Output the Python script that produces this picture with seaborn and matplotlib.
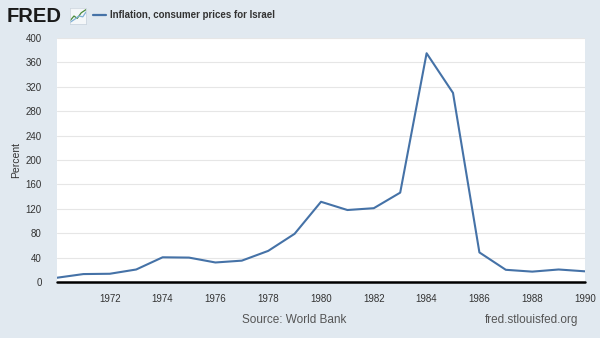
import matplotlib
matplotlib.use("Agg")
import matplotlib.pyplot as plt
import seaborn as sns
import pandas as pd

years = list(range(1970, 1991))
inflation = [7.0, 13.0, 13.5, 20.5, 40.5, 40.0, 32.0, 35.0, 51.0, 79.0, 131.5,
             118.0, 121.0, 146.5, 375.0, 310.0, 48.5, 20.0, 17.0, 20.5, 17.5]
x_ticks = list(range(1972, 1991, 2))
y_ticks = list(range(0, 401, 40))
series_name = "Inflation, consumer prices for Israel"

df = pd.DataFrame({"year": years, "value": inflation})

sns.set_theme(style="white")
plt.rcParams["font.family"] = ["Liberation Sans", "DejaVu Sans"]

bg = "#e1e9f0"
line_color = "#4572a7"

fig = plt.figure(figsize=(6.0, 3.38), dpi=100, facecolor=bg)
ax = fig.add_axes([57 / 600, 1 - 282 / 338, (585 - 57) / 600, (282 - 38) / 338])
ax.set_facecolor("white")

sns.lineplot(data=df, x="year", y="value", ax=ax, color=line_color, linewidth=1.5)

ax.set_xlim(1970, 1990)
ax.set_ylim(0, 400)
ax.set_xticks(x_ticks)
ax.set_xticklabels([str(t) for t in x_ticks])
ax.set_yticks(y_ticks)
ax.set_yticklabels([str(t) for t in y_ticks])
ax.tick_params(axis="y", labelsize=7, colors="#333333", length=0, pad=11)
ax.tick_params(axis="x", labelsize=7, labelcolor="#333333", length=5,
               color="#d8d8d8", width=0.8, pad=4, direction="out")
ax.grid(axis="y", color="#e6e6e6", linewidth=0.8)
ax.set_axisbelow(True)
for s in ax.spines.values():
    s.set_visible(False)
ax.axhline(0, color="black", linewidth=1.8, clip_on=False, zorder=5)
ax.set_xlabel("")
ax.set_ylabel("Percent", fontsize=7.5, color="#333333")
ax.yaxis.set_label_coords(-36 / 528, 0.5)

# header: logo and legend entry
fig.text(7 / 600, 1 - 16 / 338, "FRED", fontsize=14.5, fontweight="heavy",
         color="#1a1a1a", va="center", ha="left")
icon = fig.add_axes([70 / 600, 1 - 24 / 338, 16 / 600, 16 / 338])
icon.set_facecolor("#f4f7f9")
icon.plot([0, 0.25, 0.45, 0.7, 1.0], [0.2, 0.5, 0.35, 0.7, 0.9], color="#4a8b3a", lw=0.9)
icon.plot([0, 0.3, 0.55, 0.8, 1.0], [0.1, 0.3, 0.5, 0.45, 0.75], color="#7fb0d6", lw=0.9)
icon.set_xlim(0, 1)
icon.set_ylim(0, 1)
icon.set_xticks([])
icon.set_yticks([])
for s in icon.spines.values():
    s.set_color("#c9d3dc")
    s.set_linewidth(0.5)

fig.add_artist(plt.Line2D([93 / 600, 106 / 600], [1 - 15 / 338, 1 - 15 / 338],
                          color=line_color, linewidth=1.6))
fig.text(110 / 600, 1 - 15 / 338, series_name, fontsize=7, fontweight="bold",
         color="#333333", va="center", ha="left")

# footer
fig.text(294 / 600, 1 - 320 / 338, "Source: World Bank", fontsize=8.5,
         color="#555555", va="center", ha="center")
fig.text(532 / 600, 1 - 320 / 338, "fred.stlouisfed.org", fontsize=8.5,
         color="#555555", va="center", ha="center")

fig.savefig("out.png", dpi=100, facecolor=bg)
